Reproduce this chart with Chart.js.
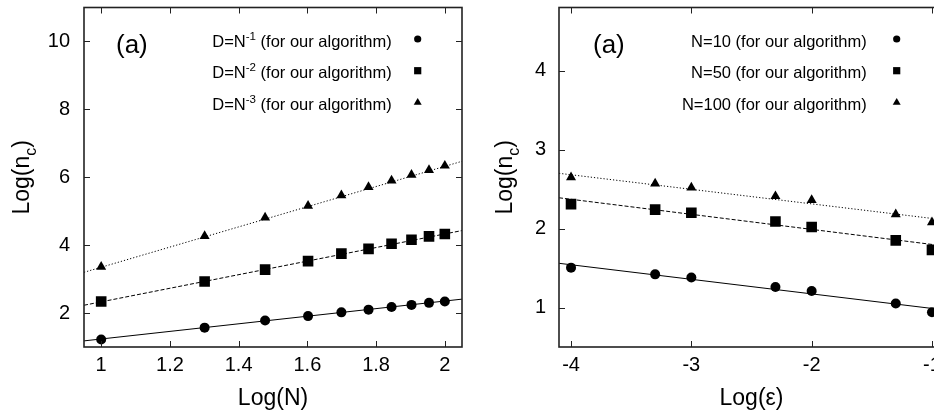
<!DOCTYPE html>
<html>
<head>
<meta charset="utf-8">
<script src="https://cdn.jsdelivr.net/npm/chart.js@4.4.0/dist/chart.umd.min.js"></script>
<style>
  html, body { margin: 0; padding: 0; background: #fff; overflow: hidden; }
  body { width: 934px; height: 415px; position: relative; }
  .panel { position: absolute; top: 0; height: 415px; }
  #leftPanel { left: 0; width: 470px; }
  #rightPanel { left: 470px; width: 490px; }
</style>
</head>
<body>
<div class="panel" id="leftPanel"><canvas id="chartN" width="470" height="415"></canvas></div>
<div class="panel" id="rightPanel"><canvas id="chartEps" width="490" height="415"></canvas></div>
<script>
// Panel 1: Log(n_c) vs Log(N)
const logN = [1, 1.301, 1.477, 1.602, 1.699, 1.778, 1.845, 1.903, 1.954, 2];
const ncD1 = [1.22, 1.57, 1.78, 1.91, 2.02, 2.10, 2.18, 2.24, 2.30, 2.34];
const ncD2 = [2.34, 2.93, 3.28, 3.53, 3.75, 3.89, 4.04, 4.16, 4.26, 4.33];
const ncD3 = [3.36, 4.27, 4.81, 5.16, 5.47, 5.71, 5.90, 6.07, 6.21, 6.34];
const fitLogN = [0.95, 2.05];
const fitD1 = [1.18, 2.41];
const fitD2 = [2.23, 4.43];
const fitD3 = [3.20, 6.47];
const logNTicks = [1, 1.2, 1.4, 1.6, 1.8, 2];
const ncTicksN = [2, 4, 6, 8, 10];
const labelsN = ['D=N^-1 (for our algorithm)', 'D=N^-2 (for our algorithm)', 'D=N^-3 (for our algorithm)'];

// Panel 2: Log(n_c) vs Log(eps)
const logEps = [-4, -3.301, -3, -2.301, -2, -1.301, -1];
const ncN10 = [1.505, 1.42, 1.38, 1.26, 1.21, 1.05, 0.94];
const ncN50 = [2.31, 2.24, 2.20, 2.09, 2.02, 1.85, 1.73];
const ncN100 = [2.65, 2.57, 2.52, 2.41, 2.36, 2.18, 2.08];
const fitLogEps = [-4.1, -0.9];
const fitN10 = [1.56, 0.97];
const fitN50 = [2.39, 1.78];
const fitN100 = [2.70, 2.11];
const logEpsTicks = [-4, -3, -2, -1];
const ncTicksEps = [1, 2, 3, 4];
const labelsEps = ['N=10 (for our algorithm)', 'N=50 (for our algorithm)', 'N=100 (for our algorithm)'];

const markerStyles = ['circle', 'rect', 'triangle'];

Chart.defaults.font.family = "'Liberation Sans', Arial, Helvetica, sans-serif";
Chart.defaults.color = '#000';

/**
 * Draws a small legend symbol
 */
function drawSymbol(ctx, style, x, y) {
  ctx.beginPath();
  if (style === 'circle') {
    ctx.arc(x, y, 3.6, 0, Math.PI * 2);
  } else if (style === 'rect') {
    ctx.rect(x - 3.6, y - 3.6, 7.2, 7.2);
  } else {
    const r = 4.6;
    ctx.moveTo(x, y - r);
    ctx.lineTo(x + r * 0.866, y + r * 0.5);
    ctx.lineTo(x - r * 0.866, y + r * 0.5);
    ctx.closePath();
  }
  ctx.fill();
}

/**
 * Splits 'a^b c' / 'a_b c' style text into [text, scale, shift] pieces
 */
function richParts(text, mark, shift) {
  const i = text.indexOf(mark);
  if (i < 0) return [[text, 1, 0]];
  const rest = text.slice(i + 1);
  const m = rest.match(/^([^\s)]+)(.*)$/);
  return [[text.slice(0, i), 1, 0], [m[1], 0.7, shift], [m[2], 1, 0]];
}

function drawParts(ctx, parts, x, y, size) {
  parts.forEach(([t, s, dy]) => {
    ctx.font = `${size * s}px 'Liberation Sans', Arial, sans-serif`;
    ctx.fillText(t, x, y + dy * size);
    x += ctx.measureText(t).width;
  });
}

function partsWidth(ctx, parts, size) {
  return parts.reduce((w, [t, s]) => {
    ctx.font = `${size * s}px 'Liberation Sans', Arial, sans-serif`;
    return w + ctx.measureText(t).width;
  }, 0);
}

/**
 * Gnuplot-like frame: box, inner ticks, panel label, key and y title
 */
const gnuplotFrame = {
  id: 'gnuplotFrame',
  afterDatasetsDraw(chart, args, opts) {
    const { ctx, chartArea: a, scales: { x, y } } = chart;
    ctx.save();

    // Ticks para dentro, espelhados
    ctx.strokeStyle = '#222';
    ctx.lineWidth = 1;
    ctx.beginPath();
    x.ticks.forEach(t => {
      const px = Math.round(x.getPixelForValue(t.value)) + 0.5;
      ctx.moveTo(px, a.bottom); ctx.lineTo(px, a.bottom - 6);
      ctx.moveTo(px, a.top); ctx.lineTo(px, a.top + 6);
    });
    y.ticks.forEach(t => {
      const py = Math.round(y.getPixelForValue(t.value)) + 0.5;
      ctx.moveTo(a.left, py); ctx.lineTo(a.left + 6, py);
      ctx.moveTo(a.right, py); ctx.lineTo(a.right - 6, py);
    });
    ctx.stroke();

    ctx.lineWidth = 1.6;
    ctx.strokeRect(a.left, a.top, a.right - a.left, a.bottom - a.top);

    ctx.fillStyle = '#000';
    ctx.textBaseline = 'alphabetic';
    ctx.textAlign = 'left';

    // (a)
    ctx.font = "26px 'Liberation Sans', Arial, sans-serif";
    ctx.fillText(opts.panelLabel, a.left + opts.panelLabelDx, 53);

    // Legenda
    opts.labels.forEach((label, i) => {
      const parts = richParts(label, '^', -0.42);
      const w = partsWidth(ctx, parts, 16.5);
      const base = opts.keyBaselines[i];
      drawParts(ctx, parts, opts.keyTextRight - w, base, 16.5);
      drawSymbol(ctx, markerStyles[i], opts.keySymbolX, base - 7.5);
    });

    // Titulo do eixo y com subscrito
    const yParts = richParts(opts.yTitle, '_', 0.3);
    const yw = partsWidth(ctx, yParts, 23);
    ctx.translate(opts.yTitleX, (a.top + a.bottom) / 2);
    ctx.rotate(-Math.PI / 2);
    drawParts(ctx, yParts, -yw / 2, 0, 23);

    ctx.restore();
  }
};

function markerSet(xs, ys, style, radius) {
  return {
    data: xs.map((v, i) => ({ x: v, y: ys[i] })),
    pointStyle: style,
    pointRadius: radius,
    pointHoverRadius: radius,
    backgroundColor: '#000',
    borderColor: '#000',
    pointBorderWidth: 0,
    showLine: false
  };
}

function fitSet(xs, ys, dash) {
  return {
    data: xs.map((v, i) => ({ x: v, y: ys[i] })),
    showLine: true,
    pointRadius: 0,
    pointHoverRadius: 0,
    borderColor: '#000',
    borderWidth: 1,
    borderDash: dash,
    fill: false
  };
}

/**
 * Creates one panel
 */
function makePanel(id, cfg) {
  return new Chart(document.getElementById(id), {
    type: 'scatter',
    data: { datasets: cfg.datasets },
    options: {
      responsive: false,
      animation: false,
      events: [],
      layout: { padding: cfg.padding },
      plugins: {
        legend: { display: false },
        tooltip: { enabled: false },
        gnuplotFrame: cfg.frame
      },
      scales: {
        x: {
          type: 'linear',
          min: cfg.xRange[0],
          max: cfg.xRange[1],
          afterBuildTicks: s => { s.ticks = cfg.xTicks.map(v => ({ value: v })); },
          afterFit: s => { s.height = cfg.xAxisHeight; s.paddingLeft = 0; s.paddingRight = 0; },
          grid: { display: false, drawTicks: false },
          border: { display: false },
          ticks: {
            font: { size: 20 },
            color: '#000',
            padding: 6,
            maxRotation: 0,
            autoSkip: false,
            callback: v => String(v)
          },
          title: {
            display: true,
            text: cfg.xTitle,
            font: { size: 23 },
            color: '#000',
            padding: { top: 0, bottom: 3 }
          }
        },
        y: {
          type: 'linear',
          min: cfg.yRange[0],
          max: cfg.yRange[1],
          afterBuildTicks: s => { s.ticks = cfg.yTicks.map(v => ({ value: v })); },
          afterFit: s => { s.width = cfg.yAxisWidth; s.paddingTop = 0; s.paddingBottom = 0; },
          grid: { display: false, drawTicks: false },
          border: { display: false },
          ticks: {
            font: { size: 20 },
            color: '#000',
            padding: cfg.yTickPadding,
            autoSkip: false,
            callback: v => String(v)
          }
        }
      }
    },
    plugins: [gnuplotFrame]
  });
}

makePanel('chartN', {
  datasets: [
    markerSet(logN, ncD1, 'circle', 5),
    markerSet(logN, ncD2, 'rect', 7.5),
    markerSet(logN, ncD3, 'triangle', 5.8),
    fitSet(fitLogN, fitD1, []),
    fitSet(fitLogN, fitD2, [4, 2]),
    fitSet(fitLogN, fitD3, [1.2, 2])
  ],
  padding: { top: 6, right: 8, left: 0, bottom: 0 },
  xRange: [0.95, 2.05],
  yRange: [1, 11],
  xTicks: logNTicks,
  yTicks: ncTicksN,
  xAxisHeight: 68,
  yAxisWidth: 84,
  yTickPadding: 14,
  xTitle: 'Log(N)',
  frame: {
    panelLabel: '(a)',
    panelLabelDx: 32,
    labels: labelsN,
    keyTextRight: 391.7,
    keySymbolX: 417.7,
    keyBaselines: [46.5, 78.2, 110],
    yTitle: 'Log(n_c)',
    yTitleX: 29
  }
});

makePanel('chartEps', {
  datasets: [
    markerSet(logEps, ncN10, 'circle', 5),
    markerSet(logEps, ncN50, 'rect', 7.5),
    markerSet(logEps, ncN100, 'triangle', 5.8),
    fitSet(fitLogEps, fitN10, []),
    fitSet(fitLogEps, fitN50, [4, 2]),
    fitSet(fitLogEps, fitN100, [1.2, 2])
  ],
  padding: { top: 6, right: 16, left: 0, bottom: 0 },
  xRange: [-4.1, -0.9],
  yRange: [0.5, 4.8],
  xTicks: logEpsTicks,
  yTicks: ncTicksEps,
  xAxisHeight: 68,
  yAxisWidth: 89,
  yTickPadding: 13,
  xTitle: 'Log(ε)',
  frame: {
    panelLabel: '(a)',
    panelLabelDx: 34,
    labels: labelsEps,
    keyTextRight: 396.7,
    keySymbolX: 426.7,
    keyBaselines: [46.5, 78.2, 110],
    yTitle: 'Log(n_c)',
    yTitleX: 42
  }
});
</script>
</body>
</html>
